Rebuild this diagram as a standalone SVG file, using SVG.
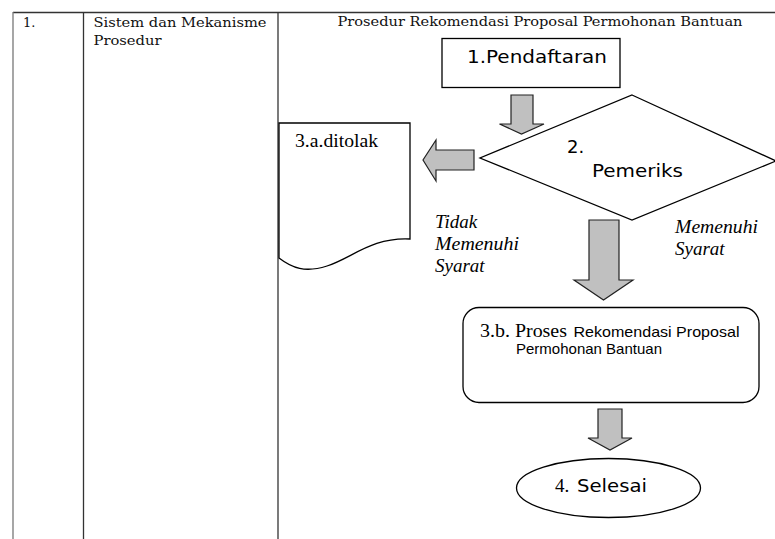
<svg xmlns="http://www.w3.org/2000/svg" width="775" height="539" viewBox="0 0 775 539">
<style>
.tl{stroke:#333;stroke-width:1.3;fill:none}
.hd{font-family:"DejaVu Serif","Liberation Serif",serif;font-size:13px;fill:#111}
.sn{font-family:"DejaVu Sans","Liberation Sans",sans-serif;font-size:18px;fill:#000}
.sr{font-family:"Liberation Serif","Times New Roman",serif;font-size:19px;fill:#000}
.it{font-family:"Liberation Serif","Times New Roman",serif;font-size:19px;font-style:italic;fill:#000}
.ar{font-family:"Liberation Sans",Arial,sans-serif;font-size:15px;fill:#000}
.shape{fill:#fff;stroke:#000;stroke-width:1.3}
.arrow{fill:#c0c0c0;stroke:#222;stroke-width:1.2;stroke-linejoin:miter}
</style>
<rect width="775" height="539" fill="#fff"/>
<g id="table">
<line class="tl" x1="13" y1="12.5" x2="775" y2="12.5"/>
<line class="tl" x1="13" y1="12" x2="13" y2="539" style="stroke:#777"/>
<line class="tl" x1="83.5" y1="12" x2="83.5" y2="539"/>
<line class="tl" x1="278" y1="12" x2="278" y2="539"/>
<text class="hd" x="23" y="26.5">1.</text>
<text class="hd" x="93.5" y="26.5" textLength="173" lengthAdjust="spacingAndGlyphs">Sistem dan Mekanisme</text>
<text class="hd" x="93.5" y="45" textLength="68" lengthAdjust="spacingAndGlyphs">Prosedur</text>
<text class="hd" x="337.5" y="26" textLength="405" lengthAdjust="spacingAndGlyphs">Prosedur Rekomendasi Proposal Permohonan Bantuan</text>
</g>
<g id="connectors">
<polygon class="arrow" points="511,95 533,95 533,124 544,124 521.5,134 499.5,124 511,124"/>
<polygon class="arrow" points="474,150 474,170 436,170 436,181 423,160 436,140 436,150"/>
<polygon class="arrow" points="589,220 619,220 619,280 633,280 603.5,300 574,280 589,280"/>
<polygon class="arrow" points="598,409 622,409 622,438 632,438 610,450 588,438 598,438"/>
</g>
<g id="node-pendaftaran">
<rect class="shape" x="442" y="38.5" width="178" height="49"/>
<text class="sn" x="467" y="63" textLength="140" lengthAdjust="spacingAndGlyphs">1.Pendaftaran</text>
</g>
<g id="node-pemeriks">
<polygon class="shape" points="632,95 776,161 632,220 480,158"/>
<text class="sn" x="567" y="153">2.</text>
<text class="sn" x="592" y="177" textLength="91" lengthAdjust="spacingAndGlyphs">Pemeriks</text>
</g>
<g id="node-ditolak">
<path class="shape" d="M279,123 H410 V239 C372,237 352,258 327,266 C305,273 292,268 279,258 Z"/>
<text class="sr" x="295" y="147" textLength="83" lengthAdjust="spacingAndGlyphs">3.a.ditolak</text>
</g>
<g id="label-tidak">
<text class="it" x="435" y="227.5">Tidak</text>
<text class="it" x="435" y="250" textLength="84" lengthAdjust="spacingAndGlyphs">Memenuhi</text>
<text class="it" x="435" y="271.5">Syarat</text>
</g>
<g id="label-memenuhi">
<text class="it" x="675" y="233" textLength="83" lengthAdjust="spacingAndGlyphs">Memenuhi</text>
<text class="it" x="675" y="255">Syarat</text>
</g>
<g id="node-proses">
<rect class="shape" x="463" y="307.5" width="296" height="95" rx="16" ry="16"/>
<text class="sr" x="480" y="337" textLength="87" lengthAdjust="spacingAndGlyphs">3.b. Proses</text>
<text class="ar" x="573.5" y="337" textLength="166" lengthAdjust="spacingAndGlyphs">Rekomendasi Proposal</text>
<text class="ar" x="516" y="354" textLength="146" lengthAdjust="spacingAndGlyphs">Permohonan Bantuan</text>
</g>
<g id="node-selesai">
<ellipse class="shape" cx="608.5" cy="488" rx="92" ry="29.5"/>
<text class="sr" x="555" y="492" font-size="18">4.</text>
<text class="sn" x="577" y="492" textLength="70" lengthAdjust="spacingAndGlyphs">Selesai</text>
</g>
</svg>
